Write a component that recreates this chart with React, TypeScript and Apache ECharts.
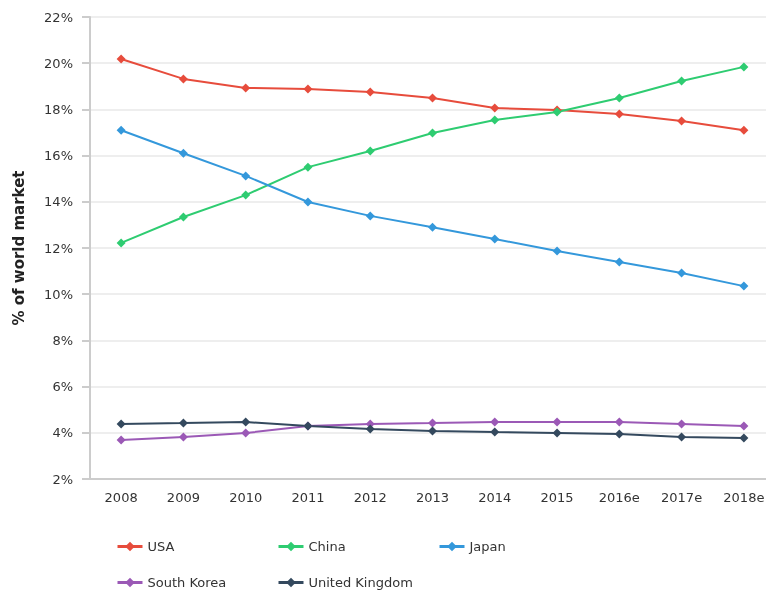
import React, { useEffect, useRef } from "react";
import * as echarts from "echarts";

const years = ["2008", "2009", "2010", "2011", "2012", "2013", "2014", "2015", "2016e", "2017e", "2018e"];
const usa = [20.18, 19.32, 18.93, 18.88, 18.75, 18.49, 18.06, 17.97, 17.8, 17.5, 17.1];
const china = [12.22, 13.34, 14.29, 15.5, 16.2, 16.98, 17.54, 17.89, 18.49, 19.23, 19.84];
const japan = [17.1, 16.1, 15.12, 13.99, 13.39, 12.9, 12.39, 11.87, 11.39, 10.92, 10.35];
const southKorea = [3.69, 3.82, 3.99, 4.29, 4.38, 4.42, 4.47, 4.47, 4.47, 4.38, 4.29];
const uk = [4.38, 4.42, 4.47, 4.29, 4.16, 4.08, 4.03, 3.99, 3.95, 3.82, 3.77];

const names = ["USA", "China", "Japan", "South Korea", "United Kingdom"];
const colors = ["#e74c3c", "#2ecc71", "#3498db", "#9b59b6", "#34495e"];
const values = [usa, china, japan, southKorea, uk];

const FONT = "DejaVu Sans";
const legendLeft = [116, 277, 438, 116, 277];
const legendTop = [540, 540, 540, 576, 576];

export default function App() {
  const ref = useRef<HTMLDivElement>(null);
  useEffect(() => {
    if (!ref.current) return;
    const chart = echarts.init(ref.current, null, { renderer: "svg" });
    chart.setOption({
      animation: false,
      color: colors,
      grid: { left: 90, top: 17, bottom: 113, right: 0, containLabel: false },
      legend: names.map((n, i) => ({
        left: legendLeft[i],
        top: legendTop[i],
        padding: 0,
        itemWidth: 25,
        itemHeight: 12,
        lineStyle: { width: 3 },
        textStyle: { fontFamily: FONT, fontSize: 13, color: "#333" },
        data: [n],
      })),
      xAxis: {
        type: "category",
        data: years,
        boundaryGap: true,
        axisLine: { lineStyle: { color: "#cccccc", width: 2 } },
        axisTick: { show: false },
        axisLabel: { fontFamily: FONT, fontSize: 13, color: "#333", margin: 12 },
      },
      yAxis: {
        type: "value",
        min: 2,
        max: 22,
        interval: 2,
        name: "% of world market",
        nameLocation: "middle",
        nameGap: 64,
        nameTextStyle: { fontFamily: FONT, fontSize: 15, fontWeight: "bold", color: "#222" },
        axisLine: { show: true, lineStyle: { color: "#cccccc", width: 2 } },
        axisTick: { show: true, length: 8, lineStyle: { color: "#cccccc", width: 2 } },
        axisLabel: { fontFamily: FONT, fontSize: 13, color: "#333", margin: 17, formatter: "{value}%" },
        splitLine: { lineStyle: { color: "#e8e8e8", width: 1.5 } },
      },
      series: names.map((n, i) => ({
        name: n,
        type: "line",
        data: values[i],
        symbol: "diamond",
        symbolSize: 9,
        lineStyle: { width: 2, color: colors[i] },
        itemStyle: { color: colors[i] },
      })),
    });
    return () => chart.dispose();
  }, []);
  return <div ref={ref} style={{ position: "fixed", left: 0, top: 0, width: 775, height: 592 }} />;
}
